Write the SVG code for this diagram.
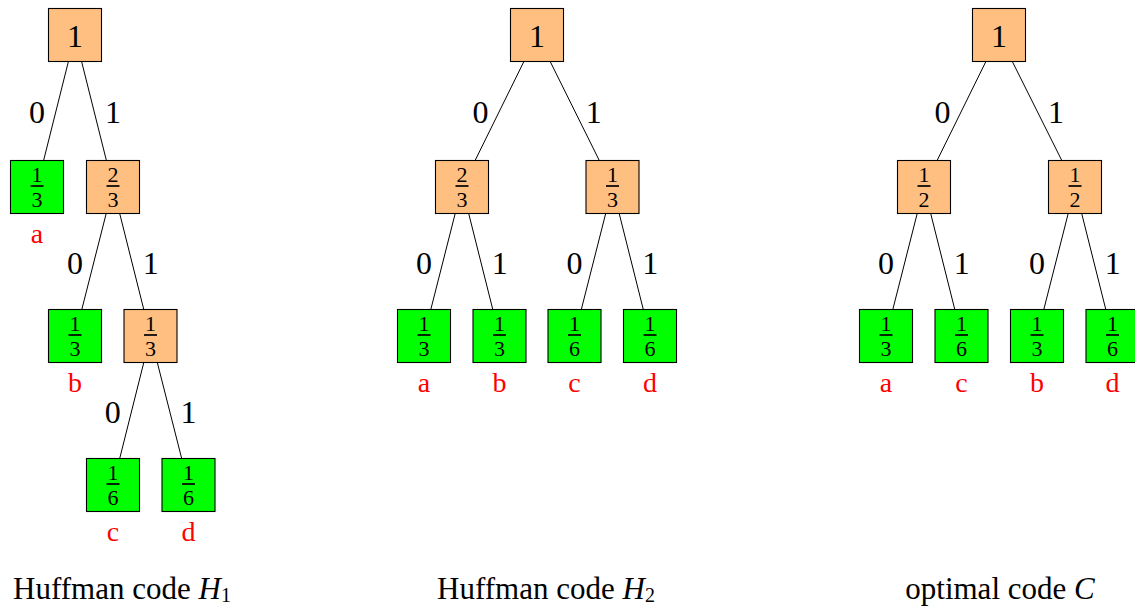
<svg xmlns="http://www.w3.org/2000/svg" width="1135" height="607" viewBox="0 0 1135 607">
<style>
.box{stroke:#000;stroke-width:1.1}
.inner{fill:#ffbf80}
.leaf{fill:#00ff00}
.big{font-family:"Liberation Serif",serif;font-size:32px;text-anchor:middle;fill:#000}
.fr{font-family:"Liberation Serif",serif;font-size:22px;text-anchor:middle;fill:#000}
.bar{stroke:#000;stroke-width:1.7}
.edge{stroke:#000;stroke-width:1;fill:none}
.lbl{font-family:"Liberation Serif",serif;font-size:32px;text-anchor:middle;fill:#000}
.sym{font-family:"Liberation Serif",serif;font-size:28px;text-anchor:middle;fill:#ff0000}
.cap{font-family:"Liberation Serif",serif;font-size:31px;text-anchor:middle;fill:#000}
</style>
<defs>
<rect id="bx" x="-26.5" y="-26.5" width="53" height="53"/>
</defs>

<g id="connectors">
<line class="edge" x1="68.4" y1="61.5" x2="43.6" y2="160.5"/>
<line class="edge" x1="81.6" y1="61.5" x2="106.4" y2="160.5"/>
<line class="edge" x1="106.2" y1="213.5" x2="81.8" y2="309.5"/>
<line class="edge" x1="119.7" y1="213.5" x2="143.8" y2="309.5"/>
<line class="edge" x1="143.8" y1="362.5" x2="119.7" y2="458.5"/>
<line class="edge" x1="157.3" y1="362.5" x2="181.7" y2="458.5"/>

<line class="edge" x1="523.9" y1="61.5" x2="475.1" y2="160.5"/>
<line class="edge" x1="550.2" y1="61.5" x2="599.3" y2="160.5"/>
<line class="edge" x1="455.2" y1="213.5" x2="430.8" y2="309.5"/>
<line class="edge" x1="468.7" y1="213.5" x2="492.8" y2="309.5"/>
<line class="edge" x1="605.7" y1="213.5" x2="581.3" y2="309.5"/>
<line class="edge" x1="619.2" y1="213.5" x2="643.3" y2="309.5"/>

<line class="edge" x1="985.9" y1="61.5" x2="937.1" y2="160.5"/>
<line class="edge" x1="1012.3" y1="61.5" x2="1061.8" y2="160.5"/>
<line class="edge" x1="917.2" y1="213.5" x2="892.8" y2="309.5"/>
<line class="edge" x1="930.7" y1="213.5" x2="954.8" y2="309.5"/>
<line class="edge" x1="1068.2" y1="213.5" x2="1043.8" y2="309.5"/>
<line class="edge" x1="1081.7" y1="213.5" x2="1105.8" y2="309.5"/>
</g>

<g id="edge-labels">
<text class="lbl" x="37" y="123">0</text>
<text class="lbl" x="113" y="123">1</text>
<text class="lbl" x="75" y="273.5">0</text>
<text class="lbl" x="150.75" y="273.5">1</text>
<text class="lbl" x="112.75" y="422.5">0</text>
<text class="lbl" x="188.5" y="422.5">1</text>

<text class="lbl" x="480.5" y="123">0</text>
<text class="lbl" x="593.75" y="123">1</text>
<text class="lbl" x="424" y="273.5">0</text>
<text class="lbl" x="499.75" y="273.5">1</text>
<text class="lbl" x="574.5" y="273.5">0</text>
<text class="lbl" x="650.25" y="273.5">1</text>

<text class="lbl" x="942.5" y="123">0</text>
<text class="lbl" x="1056" y="123">1</text>
<text class="lbl" x="886" y="273.5">0</text>
<text class="lbl" x="961.75" y="273.5">1</text>
<text class="lbl" x="1037" y="273.5">0</text>
<text class="lbl" x="1112.75" y="273.5">1</text>
</g>

<g id="t1-root" transform="translate(75,35)"><use href="#bx" class="box inner"/><text class="big" y="11.5">1</text></g>
<g id="t1-a" transform="translate(37,187)"><use href="#bx" class="box leaf"/><text class="fr" y="-5">1</text><line class="bar" x1="-6.5" y1="-1" x2="6.5" y2="-1"/><text class="fr" y="20">3</text></g>
<g id="t1-n23" transform="translate(113,187)"><use href="#bx" class="box inner"/><text class="fr" y="-5">2</text><line class="bar" x1="-6.5" y1="-1" x2="6.5" y2="-1"/><text class="fr" y="20">3</text></g>
<g id="t1-b" transform="translate(75,336)"><use href="#bx" class="box leaf"/><text class="fr" y="-5">1</text><line class="bar" x1="-6.5" y1="-1" x2="6.5" y2="-1"/><text class="fr" y="20">3</text></g>
<g id="t1-n13" transform="translate(150.5,336)"><use href="#bx" class="box inner"/><text class="fr" y="-5">1</text><line class="bar" x1="-6.5" y1="-1" x2="6.5" y2="-1"/><text class="fr" y="20">3</text></g>
<g id="t1-c" transform="translate(113,485)"><use href="#bx" class="box leaf"/><text class="fr" y="-5">1</text><line class="bar" x1="-6.5" y1="-1" x2="6.5" y2="-1"/><text class="fr" y="20">6</text></g>
<g id="t1-d" transform="translate(188.5,485)"><use href="#bx" class="box leaf"/><text class="fr" y="-5">1</text><line class="bar" x1="-6.5" y1="-1" x2="6.5" y2="-1"/><text class="fr" y="20">6</text></g>

<g id="t2-root" transform="translate(537,35)"><use href="#bx" class="box inner"/><text class="big" y="11.5">1</text></g>
<g id="t2-n23" transform="translate(462,187)"><use href="#bx" class="box inner"/><text class="fr" y="-5">2</text><line class="bar" x1="-6.5" y1="-1" x2="6.5" y2="-1"/><text class="fr" y="20">3</text></g>
<g id="t2-n13" transform="translate(612.5,187)"><use href="#bx" class="box inner"/><text class="fr" y="-5">1</text><line class="bar" x1="-6.5" y1="-1" x2="6.5" y2="-1"/><text class="fr" y="20">3</text></g>
<g id="t2-a" transform="translate(424,336)"><use href="#bx" class="box leaf"/><text class="fr" y="-5">1</text><line class="bar" x1="-6.5" y1="-1" x2="6.5" y2="-1"/><text class="fr" y="20">3</text></g>
<g id="t2-b" transform="translate(499.5,336)"><use href="#bx" class="box leaf"/><text class="fr" y="-5">1</text><line class="bar" x1="-6.5" y1="-1" x2="6.5" y2="-1"/><text class="fr" y="20">3</text></g>
<g id="t2-c" transform="translate(574.5,336)"><use href="#bx" class="box leaf"/><text class="fr" y="-5">1</text><line class="bar" x1="-6.5" y1="-1" x2="6.5" y2="-1"/><text class="fr" y="20">6</text></g>
<g id="t2-d" transform="translate(650,336)"><use href="#bx" class="box leaf"/><text class="fr" y="-5">1</text><line class="bar" x1="-6.5" y1="-1" x2="6.5" y2="-1"/><text class="fr" y="20">6</text></g>

<g id="t3-root" transform="translate(999,35)"><use href="#bx" class="box inner"/><text class="big" y="11.5">1</text></g>
<g id="t3-n12a" transform="translate(924,187)"><use href="#bx" class="box inner"/><text class="fr" y="-5">1</text><line class="bar" x1="-6.5" y1="-1" x2="6.5" y2="-1"/><text class="fr" y="20">2</text></g>
<g id="t3-n12b" transform="translate(1075,187)"><use href="#bx" class="box inner"/><text class="fr" y="-5">1</text><line class="bar" x1="-6.5" y1="-1" x2="6.5" y2="-1"/><text class="fr" y="20">2</text></g>
<g id="t3-a" transform="translate(886,336)"><use href="#bx" class="box leaf"/><text class="fr" y="-5">1</text><line class="bar" x1="-6.5" y1="-1" x2="6.5" y2="-1"/><text class="fr" y="20">3</text></g>
<g id="t3-c" transform="translate(961.5,336)"><use href="#bx" class="box leaf"/><text class="fr" y="-5">1</text><line class="bar" x1="-6.5" y1="-1" x2="6.5" y2="-1"/><text class="fr" y="20">6</text></g>
<g id="t3-b" transform="translate(1037,336)"><use href="#bx" class="box leaf"/><text class="fr" y="-5">1</text><line class="bar" x1="-6.5" y1="-1" x2="6.5" y2="-1"/><text class="fr" y="20">3</text></g>
<g id="t3-d" transform="translate(1112.5,336)"><use href="#bx" class="box leaf"/><text class="fr" y="-5">1</text><line class="bar" x1="-6.5" y1="-1" x2="6.5" y2="-1"/><text class="fr" y="20">6</text></g>

<g id="symbols">
<text class="sym" x="37" y="243">a</text>
<text class="sym" x="75" y="392">b</text>
<text class="sym" x="113" y="541">c</text>
<text class="sym" x="188.5" y="541">d</text>

<text class="sym" x="424" y="392">a</text>
<text class="sym" x="499.5" y="392">b</text>
<text class="sym" x="574.5" y="392">c</text>
<text class="sym" x="650" y="392">d</text>

<text class="sym" x="886" y="392">a</text>
<text class="sym" x="961.5" y="392">c</text>
<text class="sym" x="1037" y="392">b</text>
<text class="sym" x="1112.5" y="392">d</text>
</g>

<g id="captions">
<text class="cap" x="122" y="599">Huffman code <tspan font-style="italic">H</tspan><tspan font-size="20" dy="3">1</tspan></text>
<text class="cap" x="546" y="599">Huffman code <tspan font-style="italic">H</tspan><tspan font-size="20" dy="3">2</tspan></text>
<text class="cap" x="1000" y="599">optimal code <tspan font-style="italic">C</tspan></text>
</g>
</svg>
